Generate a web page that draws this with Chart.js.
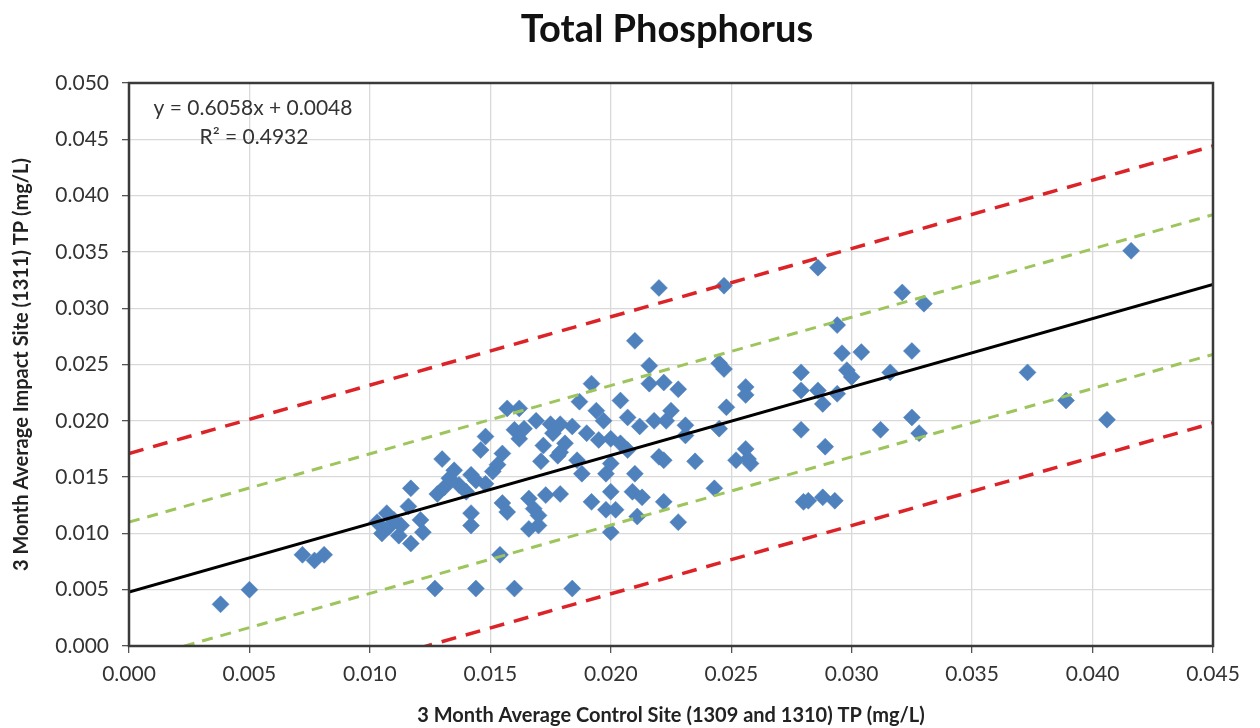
<!DOCTYPE html>
<html>
<head>
<meta charset="utf-8">
<title>Total Phosphorus</title>
<script src="https://cdn.jsdelivr.net/npm/chart.js@4.4.1/dist/chart.umd.min.js"></script>
<style>
  html, body { margin: 0; padding: 0; background: #fff; }
  canvas { display: block; }
</style>
</head>
<body>
<canvas id="tpChart" width="1260" height="728"></canvas>
<script>
// 3 month averages, mg/L (control = x, impact = y)
const controlTP = [
  0.0038, 0.0050, 0.0072, 0.0077, 0.0081, 0.0103, 0.0105, 0.0107, 0.0108, 0.0110,
  0.0112, 0.0113, 0.0117, 0.0116, 0.0117, 0.0121, 0.0122, 0.0127, 0.0144, 0.0160,
  0.0184, 0.0154, 0.0130, 0.0128, 0.0131, 0.0133, 0.0135, 0.0137, 0.0140, 0.0142,
  0.0144, 0.0148, 0.0146, 0.0148, 0.0151, 0.0153, 0.0155, 0.0157, 0.0162, 0.0160,
  0.0164, 0.0162, 0.0169, 0.0172, 0.0171, 0.0175, 0.0178, 0.0142, 0.0142, 0.0155,
  0.0157, 0.0166, 0.0168, 0.0170, 0.0166, 0.0170, 0.0173, 0.0176, 0.0179, 0.0179,
  0.0179, 0.0181, 0.0184, 0.0186, 0.0187, 0.0188, 0.0190, 0.0192, 0.0192, 0.0194,
  0.0195, 0.0197, 0.0198, 0.0198, 0.0200, 0.0200, 0.0200, 0.0200, 0.0202, 0.0204,
  0.0204, 0.0207, 0.0207, 0.0209, 0.0210, 0.0210, 0.0211, 0.0212, 0.0213, 0.0216,
  0.0216, 0.0218, 0.0220, 0.0220, 0.0222, 0.0222, 0.0222, 0.0223, 0.0225, 0.0228,
  0.0228, 0.0231, 0.0231, 0.0235, 0.0243, 0.0245, 0.0247, 0.0245, 0.0247, 0.0248,
  0.0252, 0.0256, 0.0256, 0.0256, 0.0257, 0.0258, 0.0279, 0.0279, 0.0279, 0.0280,
  0.0282, 0.0286, 0.0286, 0.0288, 0.0288, 0.0289, 0.0293, 0.0294, 0.0294, 0.0296,
  0.0298, 0.0300, 0.0304, 0.0312, 0.0316, 0.0321, 0.0325, 0.0325, 0.0328, 0.0330,
  0.0373, 0.0389, 0.0406, 0.0416
];
const impactTP = [
  0.0037, 0.0050, 0.0081, 0.0076, 0.0081, 0.0110, 0.0100, 0.0118, 0.0106, 0.0112,
  0.0098, 0.0107, 0.0091, 0.0124, 0.0140, 0.0112, 0.0101, 0.0051, 0.0051, 0.0051,
  0.0051, 0.0081, 0.0166, 0.0135, 0.0141, 0.0149, 0.0156, 0.0143, 0.0137, 0.0152,
  0.0147, 0.0144, 0.0174, 0.0186, 0.0155, 0.0161, 0.0171, 0.0211, 0.0211, 0.0192,
  0.0193, 0.0184, 0.0200, 0.0178, 0.0164, 0.0197, 0.0169, 0.0118, 0.0107, 0.0127,
  0.0119, 0.0131, 0.0122, 0.0116, 0.0104, 0.0107, 0.0134, 0.0189, 0.0197, 0.0172,
  0.0135, 0.0180, 0.0195, 0.0165, 0.0217, 0.0153, 0.0189, 0.0233, 0.0128, 0.0209,
  0.0183, 0.0200, 0.0153, 0.0121, 0.0184, 0.0162, 0.0137, 0.0101, 0.0121, 0.0180,
  0.0218, 0.0203, 0.0174, 0.0137, 0.0271, 0.0153, 0.0115, 0.0195, 0.0132, 0.0249,
  0.0233, 0.0200, 0.0168, 0.0318, 0.0234, 0.0165, 0.0128, 0.0200, 0.0209, 0.0228,
  0.0110, 0.0196, 0.0187, 0.0164, 0.0140, 0.0251, 0.0246, 0.0193, 0.0320, 0.0212,
  0.0165, 0.0230, 0.0223, 0.0175, 0.0166, 0.0162, 0.0243, 0.0227, 0.0192, 0.0128,
  0.0129, 0.0227, 0.0336, 0.0215, 0.0132, 0.0177, 0.0129, 0.0285, 0.0224, 0.0260,
  0.0245, 0.0239, 0.0261, 0.0192, 0.0243, 0.0314, 0.0203, 0.0262, 0.0189, 0.0304,
  0.0243, 0.0218, 0.0201, 0.0351
];

// trend line and bands, read at both ends of the x axis
const lineEnds = [0, 0.045];
const fitY = [0.0048, 0.0321];
const upperRedY = [0.0171, 0.0444];
const upperGreenY = [0.0110, 0.0383];
const lowerGreenY = [-0.0014, 0.0259];
const lowerRedY = [-0.0075, 0.0198];

const equationLines = ['y = 0.6058x + 0.0048', 'R\u00B2 = 0.4932'];

const xTicks = { min: 0, max: 0.045, step: 0.005 };
const yTicks = { min: 0, max: 0.05, step: 0.005 };

const FONT = 'Lato, "Open Sans", sans-serif';

function toPoints(xs, ys) {
  return xs.map((x, i) => ({ x: x, y: ys[i] }));
}

function bandLine(ys, color, width, dash) {
  return {
    type: 'line',
    data: toPoints(lineEnds, ys),
    borderColor: color,
    borderWidth: width,
    borderDash: dash,
    pointRadius: 0,
    fill: false,
    order: 0
  };
}

// title, regression text and the box round the plot
const decorations = {
  id: 'decorations',
  afterDraw(chart) {
    const ctx = chart.ctx;
    const a = chart.chartArea;
    ctx.save();
    ctx.strokeStyle = '#3a3a3a';
    ctx.lineWidth = 2.5;
    ctx.strokeRect(a.left, a.top, a.right - a.left, a.bottom - a.top);

    ctx.fillStyle = '#333';
    ctx.font = '21px ' + FONT;
    ctx.textAlign = 'center';
    ctx.textBaseline = 'middle';
    ctx.fillText(equationLines[0], 253, 108);
    ctx.fillText(equationLines[1], 254, 137);

    ctx.fillStyle = '#111';
    ctx.font = 'bold 38px ' + FONT;
    ctx.fillText('Total Phosphorus', 667, 30);
    ctx.restore();
  }
};

new Chart(document.getElementById('tpChart'), {
  type: 'scatter',
  data: {
    datasets: [
      {
        label: 'TP',
        data: toPoints(controlTP, impactTP),
        pointStyle: 'rectRot',
        pointRadius: 8.5,
        pointBackgroundColor: '#4f81bd',
        pointBorderColor: '#4f81bd',
        pointBorderWidth: 0.5,
        order: 1
      },
      bandLine(upperRedY, '#dc2328', 3.5, [15, 10]),
      bandLine(lowerRedY, '#dc2328', 3.5, [15, 10]),
      bandLine(upperGreenY, '#9dc55c', 3, [11, 8]),
      bandLine(lowerGreenY, '#9dc55c', 3, [11, 8]),
      bandLine(fitY, '#000', 3, [])
    ]
  },
  options: {
    responsive: false,
    animation: false,
    layout: { padding: { top: 83, right: 47, left: 0, bottom: 0 } },
    plugins: {
      legend: { display: false },
      tooltip: { enabled: false }
    },
    scales: {
      x: {
        type: 'linear',
        min: xTicks.min,
        max: xTicks.max,
        afterFit: (scale) => { scale.height = 82; },
        ticks: {
          stepSize: xTicks.step,
          callback: (v) => v.toFixed(3),
          font: { family: FONT, size: 21 },
          color: '#333',
          padding: 9,
          maxRotation: 0
        },
        grid: { color: '#d9d9d9', lineWidth: 1.3, tickLength: 7, tickColor: '#555' },
        border: { display: false },
        title: {
          display: true,
          text: '3 Month Average Control Site (1309 and 1310) TP (mg/L)',
          font: { family: FONT, size: 20, weight: 'bold' },
          color: '#222',
          padding: { top: 0, bottom: 0 }
        }
      },
      y: {
        min: yTicks.min,
        max: yTicks.max,
        afterFit: (scale) => { scale.width = 129; },
        ticks: {
          stepSize: yTicks.step,
          callback: (v) => v.toFixed(3),
          font: { family: FONT, size: 21 },
          color: '#333',
          padding: 13
        },
        grid: { color: '#d9d9d9', lineWidth: 1.3, tickLength: 7, tickColor: '#555' },
        border: { display: false },
        title: {
          display: true,
          text: '3 Month Average Impact Site (1311) TP (mg/L)',
          font: { family: FONT, size: 20, weight: 'bold' },
          color: '#222',
          padding: { top: 10, bottom: 0 }
        }
      }
    }
  },
  plugins: [decorations]
});
</script>
</body>
</html>
